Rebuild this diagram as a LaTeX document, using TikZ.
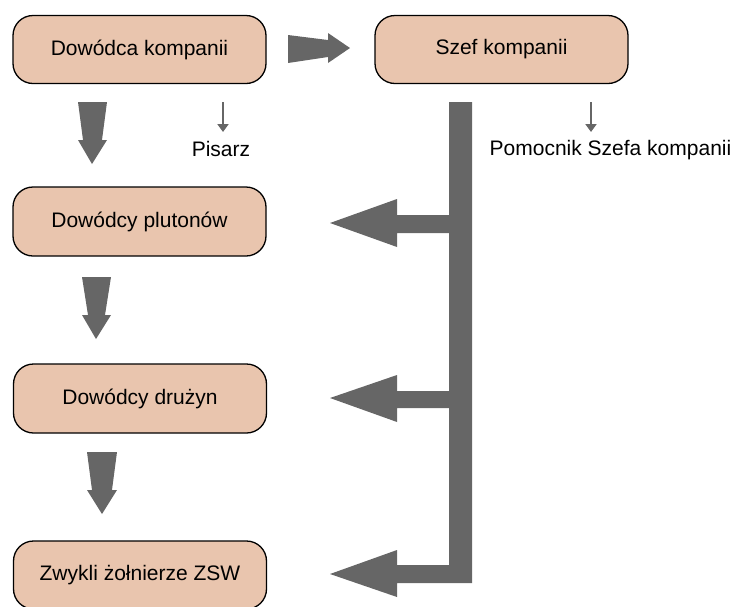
\documentclass[tikz,border=0pt]{standalone}
\usepackage{fontspec}
\setmainfont{Liberation Sans}
\usetikzlibrary{arrows.meta}
\definecolor{peach}{HTML}{E9C5AE}
\definecolor{agray}{HTML}{666666}
\tikzset{
  box/.style={draw=black, line width=1.3pt, fill=peach, rounded corners=20pt,
    minimum width=253pt, minimum height=68pt, inner sep=0pt,
    font=\fontsize{21}{25}\selectfont},
  lbl/.style={inner sep=0pt, anchor=base, font=\fontsize{21}{25}\selectfont},
  blockarrow/.style={fill=agray, draw=none},
  thinarrow/.style={draw=agray, line width=2pt, -{Triangle[width=11pt,length=8pt]}}
}
\begin{document}
\begin{tikzpicture}[x=1pt,y=-1pt]
\useasboundingbox (0,0) rectangle (737,606);
\node[box] (dk) at (139.5,49.5) {Dowódca kompanii};
\node[box] (sk) at (501.5,49.5) {Szef kompanii};
\node[box, minimum height=69pt] (dp) at (139.5,221.5) {Dowódcy plutonów};
\node[box, minimum height=69pt] (dd) at (140,398.5) {Dowódcy drużyn};
\node[box, minimum height=68pt] (zz) at (140,575) {Zwykli żołnierze ZSW};
\node[lbl] (pis) at (221,156) {Pisarz};
\node[lbl] (pom) at (610.5,155) {Pomocnik Szefa kompanii};
% thin arrows
\coordinate (p1) at (223,102);
\coordinate (p2) at (223,132);
\coordinate (q1) at (591,102);
\coordinate (q2) at (591,132);
\draw[thinarrow] (p1) -- (p2);
\draw[thinarrow] (q1) -- (q2);
% right block arrow
\fill[blockarrow] (288,35) -- (328,40) -- (328,33) -- (350,48) -- (328,63) -- (328,57) -- (288,63) -- cycle;
% down block arrows
\fill[blockarrow] (78,102) -- (107,102) -- (102,140) -- (107,140) -- (92,164) -- (78,140) -- (83,140) -- cycle;
\fill[blockarrow] (82,277) -- (111,277) -- (105,315) -- (111,315) -- (96,339) -- (82,315) -- (88,315) -- cycle;
\fill[blockarrow] (87,452) -- (117,452) -- (112,490) -- (117,490) -- (102,514) -- (87,490) -- (92,490) -- cycle;
% bar with branch arrows
\fill[blockarrow] (449,102) -- (449,215) -- (397,215) -- (397,199) -- (330,223) -- (397,247) -- (397,233) -- (449,233)
  -- (449,391) -- (397,391) -- (397,375) -- (330,398) -- (397,422) -- (397,408) -- (449,408)
  -- (449,565) -- (397,565) -- (397,550) -- (330,574) -- (397,597) -- (397,583) -- (472,583) -- (472,102) -- cycle;
\end{tikzpicture}
\end{document}
